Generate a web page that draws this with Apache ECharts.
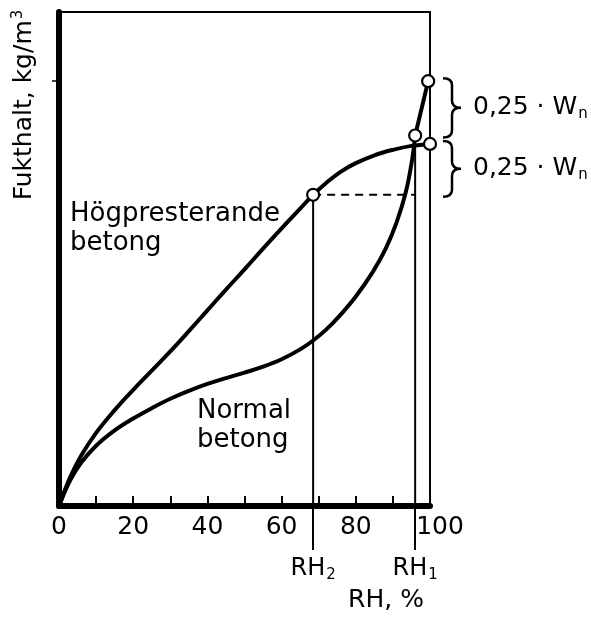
<!DOCTYPE html>
<html>
<head>
<meta charset="utf-8">
<script src="https://cdn.jsdelivr.net/npm/echarts@6/dist/echarts.min.js"></script>
<style>
  html, body { margin: 0; padding: 0; background: #fff; }
  #chart { width: 591px; height: 617px; }
</style>
</head>
<body>
<div id="chart"></div>
<script>
// RH-axis (x) and moisture (y, arbitrary units 0-100)
const xTickLabels = [0, 20, 40, 60, 80, 100];
const rh2 = 68.5;
const rh1 = 96;
const wTop = 86;

// Högpresterande betong
const hogX = [0, 3, 6, 10, 15, 20, 25, 30, 35, 40, 45, 50, 55, 60, 65, 68.5, 72, 76, 80, 85, 90, 95, 100];
const hogY = [0, 5.8, 10.2, 14.8, 19.4, 23.5, 27.4, 31.3, 35.4, 39.6, 43.8, 47.9, 52.1, 56.2, 60.2, 63, 65.4, 67.7, 69.4, 71, 72.1, 72.9, 73.3];

// Normal betong
const normX = [0, 3, 6, 10, 15, 20, 25, 30, 35, 40, 45, 50, 55, 60, 65, 68.5, 72, 76, 80, 84.5, 88, 91, 93.5, 95.2, 96];
const normY = [0, 5.2, 8.8, 12.2, 15.3, 17.7, 19.8, 21.7, 23.3, 24.7, 25.9, 27, 28.2, 29.7, 31.7, 33.5, 35.7, 38.8, 42.4, 47.3, 52, 57.4, 63.6, 70.2, 75];
// last straight piece of normal betong up to RH 100
const normTopX = [96, 99.5];
const normTopY = [75, wTop];

// marked points (open circles)
const circleX = [rh2, rh1, 100, 99.5];
const circleY = [63, 75, 73.3, wTop];

// braces "0,25 · Wn" : [low, high]
const braces = [[75, wTop], [63, 73.3]];

const FONT = 'DejaVu Sans';

function pairs(xs, ys) {
  return xs.map((x, i) => [x, ys[i]]);
}

function renderBrace(params, api) {
  const lo = api.value(0), hi = api.value(1);
  const top = api.coord([100, hi]);
  const bot = api.coord([100, lo]);
  const x0 = top[0] + 13, y1 = top[1] - 3, y2 = bot[1] + 2;
  const ym = (y1 + y2) / 2, h = 9, r = 7;
  const d = 'M' + x0 + ',' + y1 +
    ' Q' + (x0 + h) + ',' + y1 + ' ' + (x0 + h) + ',' + (y1 + r) +
    ' L' + (x0 + h) + ',' + (ym - r) +
    ' Q' + (x0 + h) + ',' + ym + ' ' + (x0 + 2 * h) + ',' + ym +
    ' Q' + (x0 + h) + ',' + ym + ' ' + (x0 + h) + ',' + (ym + r) +
    ' L' + (x0 + h) + ',' + (y2 - r) +
    ' Q' + (x0 + h) + ',' + y2 + ' ' + x0 + ',' + y2;
  return {
    type: 'group',
    children: [
      { type: 'path', shape: { pathData: d }, style: { stroke: '#000', lineWidth: 2.5, fill: 'none' } },
      {
        type: 'text', x: x0 + 2 * h + 12, y: ym,
        style: {
          text: '0,25 · W{s|n}',
          fontSize: 25, fontFamily: FONT, fill: '#000', verticalAlign: 'middle',
          rich: { s: { fontSize: 15, fontFamily: FONT, fill: '#000', padding: [12, 0, 0, 1] } }
        }
      }
    ]
  };
}

const chart = echarts.init(document.getElementById('chart'));
chart.setOption({
  animation: false,
  backgroundColor: '#fff',
  grid: { left: 59, right: 161, top: 12, bottom: 111, show: true, borderColor: '#000', borderWidth: 2 },
  xAxis: [
    {
      type: 'value', min: 0, max: 100, interval: 10,
      axisLine: { lineStyle: { color: '#000', width: 6 } },
      axisTick: { inside: true, length: 10, lineStyle: { color: '#000', width: 2 } },
      splitLine: { show: false },
      axisLabel: {
        margin: 9, color: '#000', fontSize: 25, fontFamily: FONT,
        formatter: v => xTickLabels.indexOf(v) < 0 ? '' : (v === 100 ? '{r|100}' : String(v)),
        rich: { r: { fontSize: 25, fontFamily: FONT, color: '#000', padding: [0, 0, 0, 20] } }
      }
    },
    {
      type: 'value', min: 0, max: 100, position: 'bottom',
      axisLine: { show: false },
      axisTick: { show: true, customValues: [rh2, rh1], length: 44, lineStyle: { color: '#000', width: 2 } },
      splitLine: { show: false },
      axisLabel: {
        show: true, customValues: [rh2, rh1], margin: 48, color: '#000', fontSize: 24, fontFamily: FONT,
        formatter: v => v === rh2 ? 'RH{s|2}' : 'RH{s|1}',
        rich: { s: { fontSize: 15, fontFamily: FONT, color: '#000', padding: [14, 0, 0, 1] } }
      }
    }
  ],
  yAxis: {
    type: 'value', min: 0, max: 100,
    axisLine: { show: true, lineStyle: { color: '#000', width: 6 } },
    axisTick: { show: true, customValues: [wTop], length: 7, lineStyle: { color: '#000', width: 1.5 } },
    axisLabel: { show: false },
    splitLine: { show: false }
  },
  graphic: [
    {
      type: 'text', x: 24, y: 105, rotation: Math.PI / 2,
      style: {
        text: 'Fukthalt, kg/m{sup|3}', fontSize: 25, fontFamily: FONT, fill: '#000',
        align: 'center', verticalAlign: 'middle',
        rich: { sup: { fontSize: 15, fontFamily: FONT, fill: '#000', padding: [0, 0, 12, 1] } }
      }
    },
    {
      type: 'text', x: 70, y: 200,
      style: { text: 'Högpresterande\nbetong', fontSize: 26, fontFamily: FONT, fill: '#000', lineHeight: 29 }
    },
    {
      type: 'text', x: 197, y: 397,
      style: { text: 'Normal\nbetong', fontSize: 26, fontFamily: FONT, fill: '#000', lineHeight: 29 }
    },
    {
      type: 'text', x: 386, y: 600,
      style: { text: 'RH, %', fontSize: 25, fontFamily: FONT, fill: '#000', align: 'center', verticalAlign: 'middle' }
    }
  ],
  series: [
    {
      name: 'Högpresterande betong', type: 'line', smooth: 0.4,
      symbol: 'none', data: pairs(hogX, hogY), lineStyle: { color: '#000', width: 4 }, z: 3
    },
    {
      name: 'Normal betong', type: 'line', smooth: 0.4,
      symbol: 'none', data: pairs(normX, normY), lineStyle: { color: '#000', width: 4 }, z: 3
    },
    {
      name: 'Normal topp', type: 'line', symbol: 'none',
      data: pairs(normTopX, normTopY), lineStyle: { color: '#000', width: 4 }, z: 3
    },
    {
      name: 'RH2', type: 'line', symbol: 'none',
      data: [[rh2, 0], [rh2, circleY[0]]], lineStyle: { color: '#000', width: 2 }, z: 2
    },
    {
      name: 'RH1', type: 'line', symbol: 'none',
      data: [[rh1, 0], [rh1, circleY[1]]], lineStyle: { color: '#000', width: 2 }, z: 2
    },
    {
      name: 'nivå', type: 'line', symbol: 'none',
      data: [[rh2, circleY[0]], [rh1, circleY[0]]],
      lineStyle: { color: '#000', width: 2, type: [8, 6] }, z: 2
    },
    {
      name: 'punkter', type: 'scatter', symbol: 'circle', symbolSize: 12,
      data: pairs(circleX, circleY),
      itemStyle: { color: '#fff', borderColor: '#000', borderWidth: 2.2, opacity: 1 }, z: 5
    },
    {
      name: 'klammer', type: 'custom', renderItem: renderBrace, clip: false,
      data: braces, z: 4, silent: true
    }
  ]
});
</script>
</body>
</html>
